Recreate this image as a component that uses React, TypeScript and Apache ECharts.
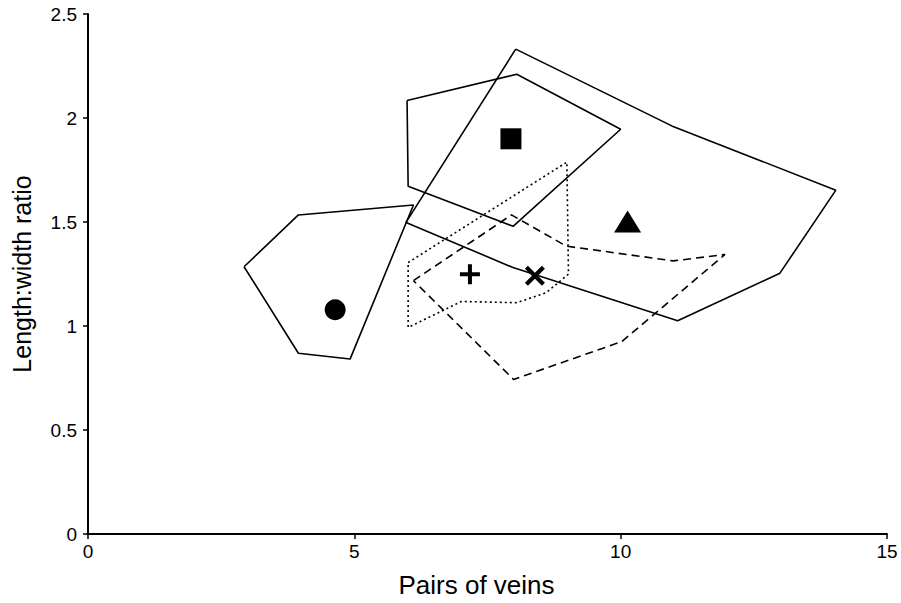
import React, { useEffect, useRef } from "react";
import * as echarts from "echarts";

const xTicks = [0, 5, 10, 15];
const yTicks = [0, 0.5, 1, 1.5, 2, 2.5];

// Polygon outlines [pairs of veins, length:width ratio]
const polyCircle: number[][] = [
  [2.93, 1.285], [3.95, 1.534], [6.11, 1.582], [4.92, 0.841], [3.95, 0.869], [2.93, 1.285],
];
const polySquare: number[][] = [
  [5.99, 2.084], [8.05, 2.21], [10.0, 1.946], [7.98, 1.479], [6.01, 1.672], [5.99, 2.084],
];
const polyTriangle: number[][] = [
  [8.03, 2.331], [10.96, 1.962], [14.04, 1.653], [12.99, 1.254], [11.07, 1.025],
  [7.98, 1.281], [5.97, 1.498], [8.03, 2.331],
];
const polyPlus: number[][] = [
  [6.01, 1.305], [8.99, 1.788], [9.02, 1.249], [8.6, 1.16], [8.05, 1.112],
  [7.01, 1.118], [6.01, 0.993], [6.01, 1.305],
];
const polyCross: number[][] = [
  [6.11, 1.218], [7.95, 1.534], [8.98, 1.384], [10.99, 1.313], [11.96, 1.344],
  [10.02, 0.925], [7.99, 0.743], [6.11, 1.218],
];

// Species centroids
const ptCircle = [[4.64, 1.078]];
const ptSquare = [[7.94, 1.9]];
const ptTriangle = [[10.13, 1.503]];
const ptPlus = [[7.17, 1.249]];
const ptCross = [[8.39, 1.242]];

const plusPath = "path://M8,0H12V8H20V12H12V20H8V12H0V8H8Z";
const crossPath =
  "path://M3,0L10,7L17,0L20,3L13,10L20,17L17,20L10,13L3,20L0,17L7,10L0,3Z";

export default function App() {
  const ref = useRef<HTMLDivElement>(null);
  useEffect(() => {
    if (!ref.current) return;
    document.body.style.margin = "0";
    document.body.style.overflow = "hidden";
    const chart = echarts.init(ref.current, null, { renderer: "svg" });
    const font = "Liberation Sans, Arial, sans-serif";
    const poly = (data: number[][], type: any) => ({
      type: "line",
      data,
      symbol: "none",
      silent: true,
      lineStyle: { color: "#000", width: 1.6, type },
      z: 2,
    });
    const pt = (data: number[][], symbol: string, size: any) => ({
      type: "scatter",
      data,
      symbol,
      symbolSize: size,
      itemStyle: { color: "#000", opacity: 1 },
      z: 5,
    });
    chart.setOption({
      animation: false,
      backgroundColor: "#fff",
      grid: { left: 88, right: 14, top: 14, bottom: 63, containLabel: false },
      xAxis: {
        type: "value",
        min: xTicks[0],
        max: xTicks[xTicks.length - 1],
        interval: 5,
        name: "Pairs of veins",
        nameLocation: "middle",
        nameGap: 38,
        nameTextStyle: { fontFamily: font, fontSize: 26, color: "#000", padding: [0, 22, 0, 0] },
        axisLine: { show: true, lineStyle: { color: "#000", width: 2 } },
        axisTick: { show: true, length: 5, lineStyle: { color: "#000", width: 1.5 } },
        axisLabel: { fontFamily: font, fontSize: 19, color: "#000", margin: 8 },
        splitLine: { show: false },
      },
      yAxis: {
        type: "value",
        min: yTicks[0],
        max: yTicks[yTicks.length - 1],
        interval: 0.5,
        name: "Length:width ratio",
        nameLocation: "middle",
        nameGap: 54,
        nameTextStyle: { fontFamily: font, fontSize: 25, color: "#000" },
        axisLine: { show: true, lineStyle: { color: "#000", width: 2 } },
        axisTick: { show: true, length: 5, lineStyle: { color: "#000", width: 1.5 } },
        axisLabel: { fontFamily: font, fontSize: 19, color: "#000", margin: 11 },
        splitLine: { show: false },
      },
      series: [
        poly(polyCircle, "solid"),
        poly(polySquare, "solid"),
        poly(polyTriangle, "solid"),
        poly(polyPlus, [2, 3]),
        poly(polyCross, [8, 5]),
        pt(ptCircle, "circle", 21),
        pt(ptSquare, "rect", 21),
        pt(ptTriangle, "triangle", [27, 22]),
        pt(ptPlus, plusPath, 20),
        pt(ptCross, crossPath, 20),
      ],
    });
    return () => chart.dispose();
  }, []);
  return <div ref={ref} style={{ width: 901, height: 603 }} />;
}
